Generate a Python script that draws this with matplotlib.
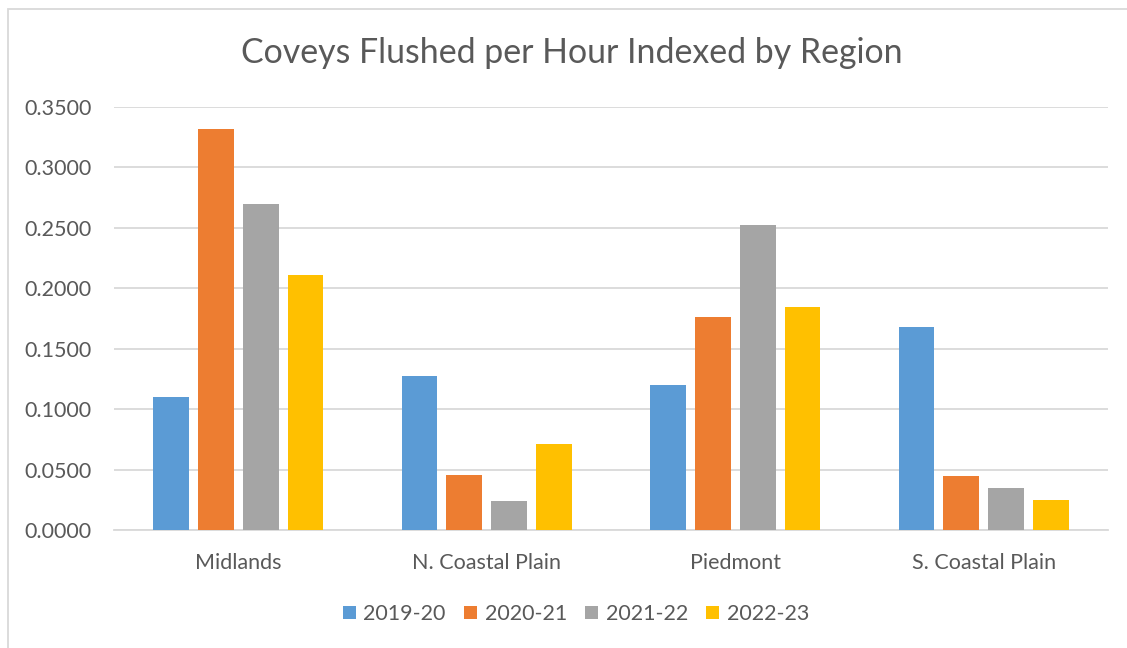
import numpy as np
import matplotlib
matplotlib.use('Agg')
import matplotlib.pyplot as plt
from matplotlib.patches import Rectangle

# Data
regions = ['Midlands', 'N. Coastal Plain', 'Piedmont', 'S. Coastal Plain']
seasons = ['2019-20', '2020-21', '2021-22', '2022-23']
s2019 = [0.1100, 0.1275, 0.1198, 0.1680]
s2020 = [0.3318, 0.0455, 0.1762, 0.0450]
s2021 = [0.2698, 0.0238, 0.2525, 0.0345]
s2022 = [0.2110, 0.0710, 0.1848, 0.0252]
colors = ['#5B9BD5', '#ED7D31', '#A5A5A5', '#FFC000']

text_col = '#595959'
plt.rcParams['font.family'] = ['Lato', 'DejaVu Sans']

fig = plt.figure(figsize=(11.27, 6.48), dpi=100)
ax = fig.add_axes([114 / 1127, 118 / 648, 994 / 1127, 423 / 648])

x = np.arange(len(regions))
width = 0.143
step = 0.181
for i, (vals, lab) in enumerate(zip([s2019, s2020, s2021, s2022], seasons)):
    ax.bar(x + (i - 1.5) * step, vals, width, color=colors[i], label=lab, zorder=3)

ax.set_xlim(-0.5, len(regions) - 0.5)
ax.set_ylim(0, 0.35)
ax.set_yticks(np.arange(0, 0.351, 0.05))
ax.set_yticklabels(['%.4f' % v for v in np.arange(0, 0.351, 0.05)])
ax.set_xticks(x)
ax.set_xticklabels(regions)
ax.tick_params(axis='both', length=0, labelsize=15.5, colors=text_col)
ax.tick_params(axis='x', pad=16.5)
ax.tick_params(axis='y', pad=16)

ax.grid(axis='y', color='#D9D9D9', linewidth=1.3, zorder=0)
for s in ['top', 'right', 'left']:
    ax.spines[s].set_visible(False)
ax.spines['bottom'].set_color('#D9D9D9')
ax.spines['bottom'].set_linewidth(1.3)

fig.text(572 / 1127, 1 - 53 / 648, 'Coveys Flushed per Hour Indexed by Region',
         ha='center', va='center', fontsize=24.4, color=text_col)

leg = fig.legend(loc='center', bbox_to_anchor=(576 / 1127, 1 - 614 / 648), ncol=4,
                 frameon=False, fontsize=15.5, handlelength=0.6, handleheight=0.6,
                 handletextpad=0.35, columnspacing=0.85)
for t in leg.get_texts():
    t.set_color(text_col)

# chart border
fig.patches.append(Rectangle((8 / 1127, -0.05), 1.1, 1 - 9 / 648 + 0.05,
                             transform=fig.transFigure, fill=False,
                             edgecolor='#D9D9D9', linewidth=1.3))

fig.savefig('out.png', dpi=100)
